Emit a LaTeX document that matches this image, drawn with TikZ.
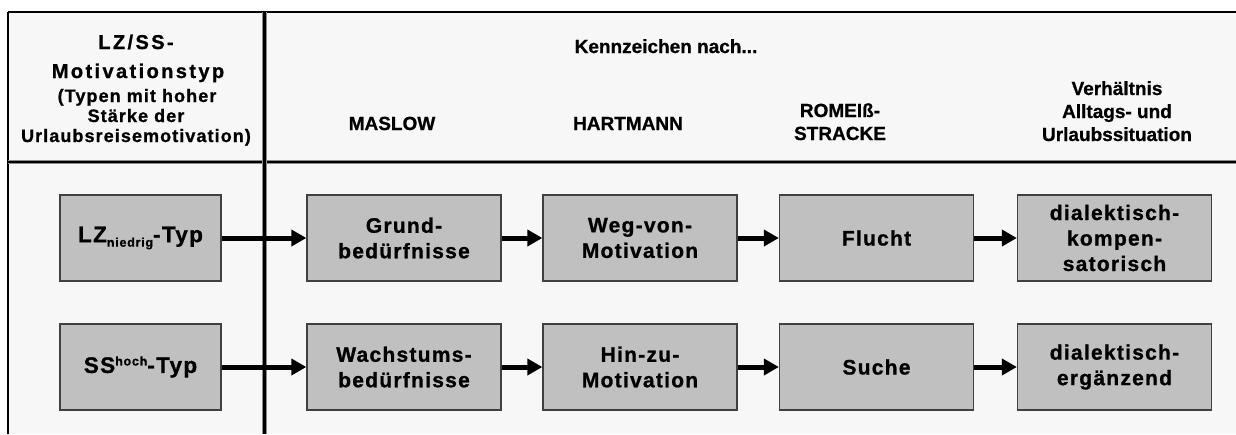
\documentclass[tikz,border=0pt]{standalone}
\usepackage{fontspec}
\usetikzlibrary{arrows.meta}
\newfontfamily\boxfont[LetterSpace=6,FakeBold=1]{Liberation Sans}
\newfontfamily\wideheadfont[LetterSpace=12,FakeBold=1]{Liberation Sans}
\newfontfamily\smallheadfont[LetterSpace=6,FakeBold=1]{Liberation Sans}
\newfontfamily\colfont[FakeBold=0.8]{Liberation Sans}
\definecolor{pagebg}{HTML}{F7F7F7}
\definecolor{boxfill}{HTML}{C0C0C0}
\definecolor{boxline}{HTML}{404040}
\definecolor{ruleshade}{HTML}{8C8C8C}
\newcommand{\lowtag}[1]{\raisebox{-4.5pt}{\fontsize{12.5}{12.5}\selectfont #1}}
\newcommand{\hightag}[1]{\raisebox{7.5pt}{\fontsize{12.5}{12.5}\selectfont #1}}
\begin{document}
\begin{tikzpicture}[x=1pt,y=-1pt,
  cell/.style={draw=boxline, fill=boxfill, line width=1.3pt, inner sep=0pt,
    minimum height=86pt, align=center,
    font=\boxfont\bfseries\fontsize{21}{25.5}\selectfont},
  typcell/.style={cell, minimum width=161pt,
    font=\boxfont\bfseries\fontsize{22.5}{26}\selectfont},
  stepcell/.style={cell, minimum width=194pt},
  link/.style={line width=5pt, -{Triangle[length=15pt,width=16pt]}},
  lefthead/.style={anchor=base, inner sep=0pt,
    font=\wideheadfont\bfseries\fontsize{20}{24}\selectfont},
  leftsub/.style={anchor=base, inner sep=0pt,
    font=\smallheadfont\bfseries\fontsize{18}{20}\selectfont},
  colhead/.style={anchor=base, inner sep=0pt, align=center,
    font=\colfont\bfseries\fontsize{19}{23}\selectfont}
]
\useasboundingbox (0,0) rectangle (1236,434);

% frame corners and rule ends
\coordinate (tl) at (8,12);
\coordinate (tr) at (1236,12);
\coordinate (bl) at (8,434);
\coordinate (br) at (1236,434);
\coordinate (sepl) at (8,162);
\coordinate (sepr) at (1236,162);
\coordinate (divt) at (264,12);
\coordinate (divb) at (264,434);

% table background and rules
\fill[pagebg] (tl) rectangle (br);
\draw[line width=1.6pt] (tl) -- (tr);
\draw[line width=2pt] (tl) -- (bl);
\draw[ruleshade, line width=4.5pt] (sepl) -- (sepr);
\draw[line width=2.5pt] (sepl) -- (sepr);
\draw[ruleshade, line width=5pt] (divt) -- (divb);
\draw[line width=3pt] (divt) -- (divb);

% left column header
\node[lefthead] (h1) at (136,49) {LZ/SS-};
\node[lefthead] (h2) at (138,78) {Motivationstyp};
\node[leftsub] (h3) at (137,102) {(Typen mit hoher};
\node[leftsub] (h4) at (136,122) {Stärke der};
\node[leftsub] (h5) at (136,142) {Urlaubsreisemotivation)};

% column headers
\node[colhead] (kz) at (666,53) {Kennzeichen nach...};
\node[colhead] (cmaslow) at (392,130) {MASLOW};
\node[colhead] (chart) at (628,130) {HARTMANN};
\node[colhead] (crom1) at (840,117) {ROMEIß-};
\node[colhead] (crom2) at (840,140) {STRACKE};
\node[colhead] (cver1) at (1117,95) {Verhältnis};
\node[colhead] (cver2) at (1117,118) {Alltags- und};
\node[colhead] (cver3) at (1117,141) {Urlaubssituation};

% first row
\node[typcell] (lz) at (140.5,238) {LZ\lowtag{niedrig}-Typ};
\node[stepcell] (grund) at (404,238) {Grund-\\bedürfnisse};
\node[stepcell] (weg) at (640,238) {Weg-von-\\Motivation};
\node[stepcell] (flucht) at (876.5,238) {Flucht};
\node[stepcell] (komp) at (1114.5,238) {dialektisch-\\kompen-\\satorisch};

% second row
\node[typcell] (ss) at (140.5,367) {SS\hightag{hoch}-Typ};
\node[stepcell] (wachs) at (404,367) {Wachstums-\\bedürfnisse};
\node[stepcell] (hin) at (640,367) {Hin-zu-\\Motivation};
\node[stepcell] (suche) at (876.5,367) {Suche};
\node[stepcell] (erg) at (1114.5,367) {dialektisch-\\ergänzend};

% connectors
\draw[link] (lz) -- (grund);
\draw[link] (grund) -- (weg);
\draw[link] (weg) -- (flucht);
\draw[link] (flucht) -- (komp);
\draw[link] (ss) -- (wachs);
\draw[link] (wachs) -- (hin);
\draw[link] (hin) -- (suche);
\draw[link] (suche) -- (erg);
\end{tikzpicture}
\end{document}
